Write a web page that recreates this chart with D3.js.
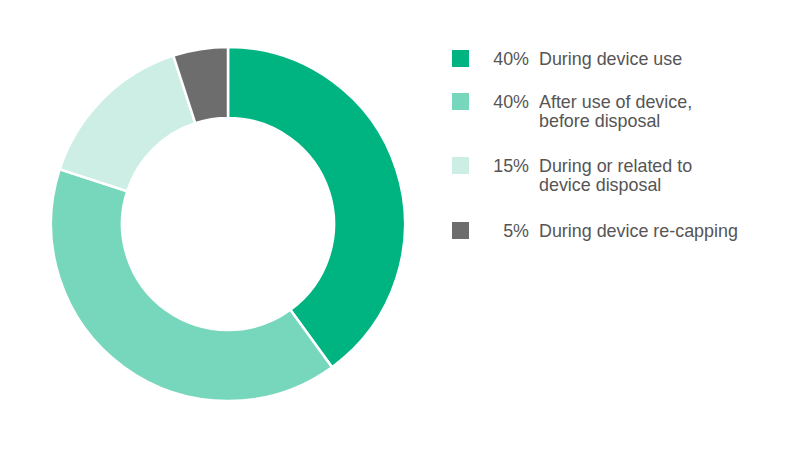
<!DOCTYPE html>
<html><head><meta charset="utf-8">
<script src="https://cdn.jsdelivr.net/npm/d3@7"></script>
<style>body{margin:0;background:#fff}svg{display:block}</style>
</head><body>
<svg id="c" width="800" height="450"></svg>
<script>
const categories = ["During device use", "After use of device, before disposal", "During or related to device disposal", "During device re-capping"];
const labelLines = [["During device use"], ["After use of device,", "before disposal"], ["During or related to", "device disposal"], ["During device re-capping"]];
const values = [40, 40, 15, 5];
const colors = ["#00b482", "#76d7bc", "#cdeee4", "#6d6d6d"];

const svg = d3.select("#c");
const cx = 228, cy = 224, R = 177, r = 106;
const pie = d3.pie().sort(null).value(d => d)(values);
const arc = d3.arc().innerRadius(r).outerRadius(R);
svg.append("g").attr("transform", `translate(${cx},${cy})`)
  .selectAll("path").data(pie).join("path")
  .attr("d", arc).attr("fill", (d, i) => colors[i])
  .attr("stroke", "#fff").attr("stroke-width", 2.5);

const ys = [50, 93, 157, 222];
const lg = svg.append("g").style("font-family", "'Liberation Sans', Arial, sans-serif").attr("font-size", 17.9).attr("fill", "#555");
categories.forEach((c, i) => {
  const g = lg.append("g").attr("transform", `translate(452,${ys[i]})`);
  g.append("rect").attr("width", 17).attr("height", 17).attr("fill", colors[i]);
  g.append("text").attr("x", 77).attr("y", 14.5).attr("text-anchor", "end").text(values[i] + "%");
  labelLines[i].forEach((l, j) => {
    g.append("text").attr("x", 87).attr("y", 14.5 + j * 19.5).text(l);
  });
});
</script>
</body></html>
